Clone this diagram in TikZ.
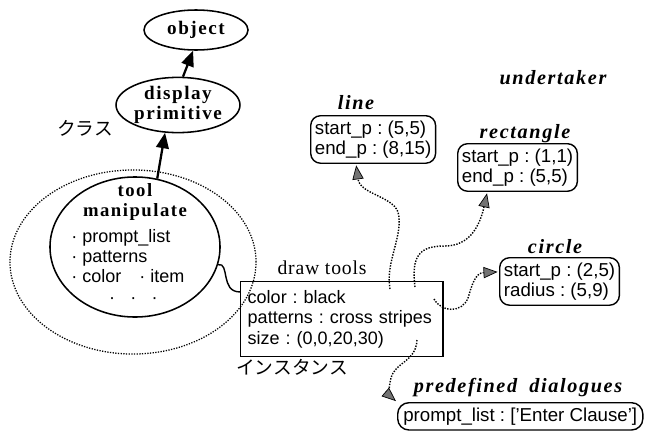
\documentclass[tikz,border=0pt]{standalone}
\usepackage{fontspec}
\setmainfont{Liberation Sans}
\newfontfamily\lblfont{Liberation Serif}[LetterSpace=8]
\newfontfamily\plainserif{Liberation Serif}[LetterSpace=4]
\newfontfamily\jpfont{Noto Sans CJK JP}
\usetikzlibrary{arrows.meta,shapes.geometric,positioning}
\frenchspacing

\tikzset{
  cls/.style={ellipse, draw, line width=1.1pt, inner sep=0pt, align=center,
    font=\lblfont\bfseries\fontsize{13.6}{14.5}\selectfont},
  attr/.style={draw, rounded corners=7pt, line width=1pt, align=left,
    inner xsep=3pt, inner ysep=3.5pt, font=\fontsize{13.3}{14.4}\selectfont},
  tag/.style={font=\lblfont\bfseries\itshape\fontsize{14.4}{16}\selectfont},
  jp/.style={font=\jpfont\fontsize{13.3}{15}\selectfont},
  bigarrow/.style={line width=1.6pt, -{Triangle[length=11pt,width=9pt]}},
  msg/.style={densely dotted, line width=1pt, shorten >=1pt,
    -{Triangle[length=10pt,width=8pt,fill=black!55,line width=0.5pt]}}
}

\begin{document}
\begin{tikzpicture}[x=0.025cm, y=-0.025cm]
        \useasboundingbox (0,0) rectangle (649,434);
        % class side
        \node[ellipse, draw, densely dotted, line width=0.9pt, minimum width=6.15cm, minimum height=4.6cm] (toolarea) at (133,262) {};
        \node[cls, minimum width=2.6cm, minimum height=1cm] (obj) at (196,30) {object};
        \node[cls, minimum width=3.03cm, minimum height=1.38cm] (disp) at (178,105) {display\\primitive};
        \node[ellipse, draw, line width=1.1pt, minimum width=4.25cm, minimum height=3.5cm] (tool) at (135,247) {};
        \node[font=\lblfont\bfseries\fontsize{13.3}{14.5}\selectfont, align=center] (toolname) at (135,202) {tool\\manipulate};
        \node[align=left, anchor=north west, inner sep=0pt, font=\fontsize{12.8}{14.4}\selectfont] (toolattr) at (71,229)
          {· prompt\_list\\· patterns\\· color\quad· item\\\hspace*{2.1em}·\hspace*{0.85em}·\hspace*{0.85em}·};
        \node[jp] (cls) at (85,128) {クラス};
        \draw[bigarrow] (disp.80) -- (obj.262);
        \draw[bigarrow] (tool.72) -- (disp.-115);
        % instances
        \node[draw, line width=1pt, anchor=north west, minimum width=5.05cm, minimum height=1.875cm,
          text width=4.7cm, align=left, inner xsep=5pt, font=\fontsize{12.8}{14.6}\selectfont] (box) at (240,281)
          {color : black\\patterns : cross stripes\\size : (0,0,20,30)};
        \node[font=\plainserif\fontsize{14}{16}\selectfont] (boxname) at (322,268) {draw tools};
        \node[jp, anchor=north west, inner sep=0pt] (inst) at (236,359) {インスタンス};
        \draw[line width=1pt] (tool.-12) .. controls (230,262) and (220,292) .. (box.165);
        \node[tag] (under) at (553,78) {undertaker};
        \node[attr, anchor=north west] (lineb) at (310,115) {start\_p : (5,5)\\end\_p : (8,15)};
        \node[tag] (linet) at (356,103) {line};
        \node[attr, anchor=north west] (rect) at (457,143) {start\_p : (1,1)\\end\_p : (5,5)};
        \node[tag] (rectt) at (525,134) {rectangle};
        \node[attr, anchor=north west] (circ) at (499,257) {start\_p : (2,5)\\radius : (5,9)};
        \node[tag] (circt) at (555,247) {circle};
        \node[attr, anchor=north west, inner xsep=4pt, rounded corners=8pt] (pre) at (397,402) {prompt\_list : ['Enter Clause']};
        \node[tag] (pret) at (518,388) {predefined\hspace{0.6em}dialogues};
        \coordinate (s1) at (390,289);
        \coordinate (s2) at (415,287);
        \coordinate (s3) at (434,299);
        \coordinate (s4) at (417,340);
        \draw[msg] (s1) .. controls (385,262) and (404,235) .. (398,212) .. controls (392,196) and (360,194) .. (lineb.235);
        \draw[msg] (s2) .. controls (411,255) and (420,246) .. (445,246) .. controls (470,246) and (480,225) .. (rect.219);
        \draw[msg] (s3) .. controls (442,313) and (462,313) .. (468,298) .. controls (472,285) and (475,273) .. (circ.171);
        \draw[msg] (s4) .. controls (416,362) and (395,362) .. (391,378) .. controls (388,390) and (390,396) .. (pre.north west);
      \end{tikzpicture}
\end{document}
